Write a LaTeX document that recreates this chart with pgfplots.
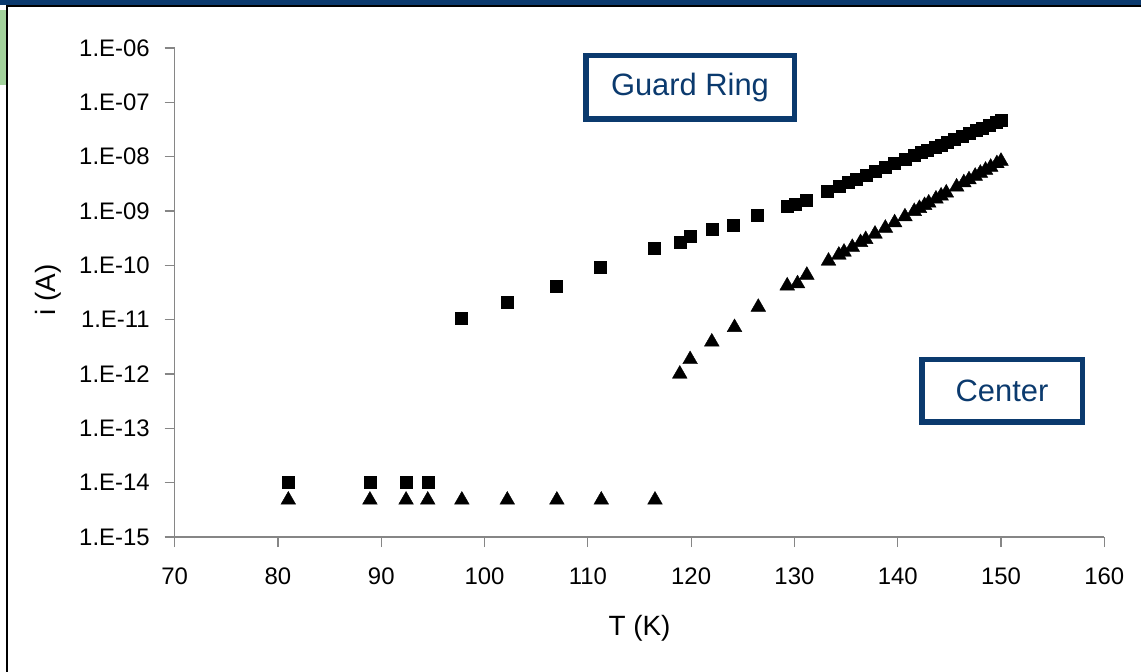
\documentclass[border=0pt]{standalone}
\usepackage{pgfplots}
\pgfplotsset{compat=1.18}
\usepackage{fontspec}
\setmainfont{Liberation Sans}
\definecolor{navy}{HTML}{0B3A6E}
\definecolor{axgray}{HTML}{868686}
\definecolor{lgreen}{HTML}{A3D39C}

\begin{document}
\begin{tikzpicture}
\path[use as bounding box] (0bp,0bp) rectangle (1141bp,672bp);
\fill[white] (0bp,0bp) rectangle (1141bp,672bp);
\fill[lgreen] (0bp,587bp) rectangle (6bp,662bp);
\fill[navy] (0bp,667bp) rectangle (1141bp,672bp);
\draw[black, line width=1.5bp] (7bp,0bp) -- (7bp,666bp) -- (1141bp,666bp);

\begin{axis}[
  at={(174.7bp,135bp)}, anchor=south west,
  scale only axis, width=929.6bp, height=489bp,
  xmin=70, xmax=160, ymode=log, ymin=1e-15, ymax=1e-6,
  axis lines=left,
  axis line style={axgray, line width=1.2bp, -},
  xtick={70,80,...,160},
  xticklabels={70,80,90,100,110,120,130,140,150,160},
  ytick={1e-15,1e-14,1e-13,1e-12,1e-11,1e-10,1e-9,1e-8,1e-7,1e-6},
  yticklabels={1.E-15,1.E-14,1.E-13,1.E-12,1.E-11,1.E-10,1.E-09,1.E-08,1.E-07,1.E-06},
  yminorticks=false,
  tick style={axgray, line width=1.2bp},
  tick align=outside, major tick length=10bp,
  /pgf/number format/assume math mode=true,
  tick label style={font=\fontsize{24}{28}\selectfont, black},
  xticklabel style={anchor=north, yshift=-17bp},
  yticklabel style={anchor=east, xshift=-11.5bp},
  xlabel={T (K)}, ylabel={i (A)},
  every axis x label/.style={at={(axis description cs:0.5,-0.186)}, anchor=center, font=\fontsize{28}{32}\selectfont},
  every axis y label/.style={at={(axis description cs:-0.1363,0.505)}, anchor=center, rotate=90, font=\fontsize{28}{32}\selectfont},
  clip=false,
]
% Guard Ring (squares)
\addplot[only marks, mark=square*, mark size=6bp, black] coordinates {
(81.0,1e-14) (88.9,1e-14) (92.4,1e-14) (94.5,1e-14)
(97.7,1.07e-11) (102.2,2.1e-11) (106.9,4.2e-11) (111.2,9.3e-11)
(116.4,2.1e-10) (118.9,2.7e-10) (119.9,3.5e-10) (122.0,4.7e-10)
(124.1,5.5e-10) (126.4,8.5e-10) (129.3,1.24e-9) (130.1,1.35e-9) (131.1,1.6e-9)
(133.2,2.34e-9) (134.3,2.85e-9) (135.2,3.35e-9) (136.0,3.86e-9) (136.9,4.53e-9)
(137.8,5.32e-9) (138.8,6.35e-9) (139.7,7.46e-9) (140.7,8.9e-9) (141.6,1.05e-8)
(142.3,1.19e-8) (142.9,1.32e-8) (143.6,1.50e-8) (144.2,1.66e-8) (144.8,1.85e-8)
(145.5,2.10e-8) (146.2,2.38e-8) (146.9,2.69e-8) (147.6,3.05e-8) (148.2,3.40e-8)
(148.9,3.85e-8) (149.5,4.28e-8) (150.0,4.68e-8)
};
% Center (triangles)
\addplot[only marks, mark=triangle*, mark size=8.5bp, black] coordinates {
(81.0,4.8e-15) (88.9,4.8e-15) (92.4,4.8e-15) (94.5,4.8e-15) (97.8,4.8e-15)
(102.2,4.8e-15) (107.0,4.8e-15) (111.3,4.8e-15) (116.5,4.8e-15)
(118.9,1.0e-12) (119.9,1.85e-12) (122.0,3.9e-12) (124.2,7.2e-12)
(126.5,1.7e-11) (129.3,4.2e-11) (130.3,4.6e-11) (131.2,6.6e-11)
(133.3,1.2e-10) (134.3,1.55e-10) (134.8,1.76e-10) (135.6,2.15e-10) (136.4,2.64e-10)
(136.9,3.0e-10) (137.8,3.77e-10) (138.8,4.85e-10) (139.7,6.1e-10) (140.7,7.85e-10)
(141.6,9.85e-10) (142.1,1.12e-9) (142.6,1.27e-9) (143.0,1.41e-9) (143.7,1.67e-9)
(144.2,1.9e-9) (144.7,2.16e-9) (145.7,2.78e-9) (146.4,3.33e-9) (146.9,3.77e-9)
(147.5,4.39e-9) (148.0,4.98e-9) (148.5,5.66e-9) (149.0,6.42e-9) (149.6,7.48e-9)
(150.0,8.27e-9)
};
\end{axis}

\node[draw=navy, line width=5.5bp, minimum width=208.5bp, minimum height=63.5bp, text=navy, font=\fontsize{31}{36}\selectfont, inner sep=0pt] at (690bp,584.5bp) {Guard Ring};
\node[draw=navy, line width=5.5bp, minimum width=160.5bp, minimum height=62.5bp, text=navy, font=\fontsize{31}{36}\selectfont, inner sep=0pt] at (1002bp,281bp) {Center};
\end{tikzpicture}
\end{document}
